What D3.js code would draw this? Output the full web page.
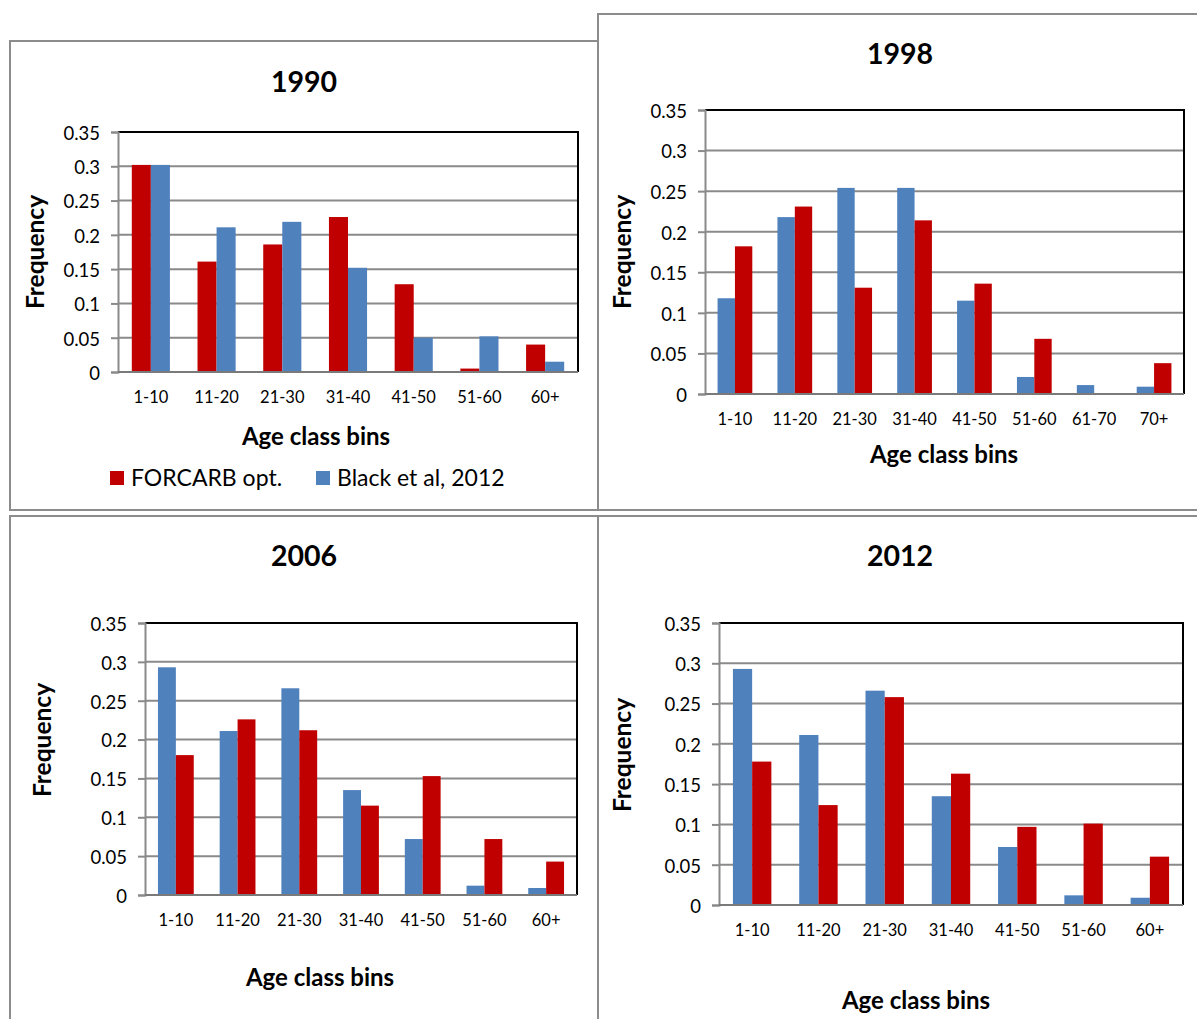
<!DOCTYPE html>
<html>
<head>
<meta charset="utf-8">
<script src="https://cdn.jsdelivr.net/npm/d3@7"></script>
<style>
  html, body { margin: 0; padding: 0; background: #fff; }
  svg { display: block; font-family: Lato, "Open Sans", sans-serif; }
</style>
</head>
<body>
<svg id="chart" width="1197" height="1019"></svg>
<script>
// ---------- DATA ----------
const bins7 = ["1-10", "11-20", "21-30", "31-40", "41-50", "51-60", "60+"];
const bins8 = ["1-10", "11-20", "21-30", "31-40", "41-50", "51-60", "61-70", "70+"];
const yTickValues = [0, 0.05, 0.1, 0.15, 0.2, 0.25, 0.3, 0.35];
const yTickLabels = ["0", "0.05", "0.1", "0.15", "0.2", "0.25", "0.3", "0.35"];
const seriesNames = ["FORCARB opt.", "Black et al, 2012"];

const forcarb1990 = [0.302, 0.161, 0.186, 0.226, 0.128, 0.005, 0.040];
const black1990   = [0.302, 0.211, 0.219, 0.152, 0.050, 0.052, 0.015];

const black1998   = [0.118, 0.218, 0.254, 0.254, 0.115, 0.021, 0.011, 0.009];
const forcarb1998 = [0.182, 0.231, 0.131, 0.214, 0.136, 0.068, 0.000, 0.038];

const black2006   = [0.293, 0.211, 0.266, 0.135, 0.072, 0.012, 0.009];
const forcarb2006 = [0.180, 0.226, 0.212, 0.115, 0.153, 0.072, 0.043];

const black2012   = [0.293, 0.211, 0.266, 0.135, 0.072, 0.012, 0.009];
const forcarb2012 = [0.178, 0.124, 0.258, 0.163, 0.097, 0.101, 0.060];

// ---------- STYLE / LAYOUT ----------
const colors = { "FORCARB opt.": "#C00000", "Black et al, 2012": "#4F81BD" };

const panels = [
  { title: "1990", cats: bins7, order: ["FORCARB opt.", "Black et al, 2012"],
    values: { "FORCARB opt.": forcarb1990, "Black et al, 2012": black1990 },
    box: [10, 41, 598, 510], plot: [118, 132, 578, 372],
    titleXY: [304, 92], yLabXY: [38, 252], xLabXY: [316, 445], legend: true },
  { title: "1998", cats: bins8, order: ["Black et al, 2012", "FORCARB opt."],
    values: { "FORCARB opt.": forcarb1998, "Black et al, 2012": black1998 },
    box: [598, 14, 1201, 510], plot: [705, 110, 1184, 394],
    titleXY: [900, 64], yLabXY: [625, 252], xLabXY: [944, 463], legend: false },
  { title: "2006", cats: bins7, order: ["Black et al, 2012", "FORCARB opt."],
    values: { "FORCARB opt.": forcarb2006, "Black et al, 2012": black2006 },
    box: [10, 516, 598, 1025], plot: [145, 623, 577, 895],
    titleXY: [304, 566], yLabXY: [45, 740], xLabXY: [320, 986], legend: false },
  { title: "2012", cats: bins7, order: ["Black et al, 2012", "FORCARB opt."],
    values: { "FORCARB opt.": forcarb2012, "Black et al, 2012": black2012 },
    box: [598, 516, 1201, 1025], plot: [719, 623, 1183, 905],
    titleXY: [900, 566], yLabXY: [625, 755], xLabXY: [916, 1009], legend: false }
];

const svg = d3.select("#chart");

// panel borders
panels.forEach(p => {
  const [l, t, r, b] = p.box;
  svg.append("rect")
    .attr("x", l).attr("y", t).attr("width", r - l).attr("height", b - t)
    .attr("fill", "none").attr("stroke", "#8c8c8c").attr("stroke-width", 2);
});

panels.forEach(p => {
  const [pl, pt, pr, pb] = p.plot;
  const g = svg.append("g");

  const x = d3.scaleBand().domain(p.cats).range([pl, pr])
    .paddingInner(0.42).paddingOuter(0.21);
  const xs = d3.scaleBand().domain(p.order).range([0, x.bandwidth()]);
  const y = d3.scaleLinear().domain([0, 0.35]).range([pb, pt]);

  // gridlines
  g.selectAll("line.grid").data(yTickValues.filter(v => v > 0 && v < 0.35)).enter()
    .append("line")
    .attr("x1", pl).attr("x2", pr)
    .attr("y1", d => y(d)).attr("y2", d => y(d))
    .attr("stroke", "#8a8a8a").attr("stroke-width", 2);

  // bars
  p.order.forEach(s => {
    g.selectAll(null).data(p.cats).enter().append("rect")
      .attr("x", c => x(c) + xs(s))
      .attr("y", (c, i) => y(p.values[s][i]))
      .attr("width", xs.bandwidth())
      .attr("height", (c, i) => y(0) - y(p.values[s][i]))
      .attr("fill", colors[s]);
  });

  // frame: top and right black
  g.append("path")
    .attr("d", `M${pl},${pt}H${pr}V${pb}`)
    .attr("fill", "none").attr("stroke", "#000").attr("stroke-width", 2);

  // y axis
  const yAxis = d3.axisLeft(y).tickValues(yTickValues)
    .tickFormat((d, i) => yTickLabels[i]).tickSize(7).tickPadding(11);
  const ya = g.append("g").attr("transform", `translate(${pl},0)`).call(yAxis);
  ya.select(".domain").attr("stroke", "#8a8a8a").attr("stroke-width", 2);
  ya.selectAll(".tick line").attr("stroke", "#8a8a8a").attr("stroke-width", 2);
  ya.selectAll(".tick text").attr("font-size", 18.5).attr("fill", "#000")
    .attr("font-family", "Lato, sans-serif").attr("dy", "0.4em");

  // x axis
  const xAxis = d3.axisBottom(x).tickSize(0).tickPadding(19);
  const xa = g.append("g").attr("transform", `translate(0,${pb})`).call(xAxis);
  xa.select(".domain").attr("stroke", "#7a7a7a").attr("stroke-width", 2)
    .attr("d", `M${pl},0H${pr}`);
  xa.selectAll(".tick text").attr("font-size", 16.5).attr("fill", "#000")
    .attr("font-family", "Lato, sans-serif");

  // title
  svg.append("text").attr("x", p.titleXY[0]).attr("y", p.titleXY[1])
    .attr("text-anchor", "middle").attr("font-size", 28.5).attr("font-weight", "bold")
    .text(p.title);

  // y label
  svg.append("text")
    .attr("transform", `translate(${p.yLabXY[0]},${p.yLabXY[1]}) rotate(-90)`)
    .attr("text-anchor", "middle").attr("dominant-baseline", "middle")
    .attr("font-size", 24.5).attr("font-weight", "bold").text("Frequency");

  // x label
  svg.append("text").attr("x", p.xLabXY[0]).attr("y", p.xLabXY[1])
    .attr("text-anchor", "middle").attr("font-size", 24).attr("font-weight", "bold")
    .text("Age class bins");

  if (p.legend) {
    const lg = svg.append("g");
    const legendX = [110, 316];
    seriesNames.forEach((s, i) => {
      lg.append("rect").attr("x", legendX[i]).attr("y", 471)
        .attr("width", 14).attr("height", 14).attr("fill", colors[s]);
      lg.append("text").attr("x", legendX[i] + 21).attr("y", 486)
        .attr("font-size", 23).text(s);
    });
  }
});
</script>
</body>
</html>
